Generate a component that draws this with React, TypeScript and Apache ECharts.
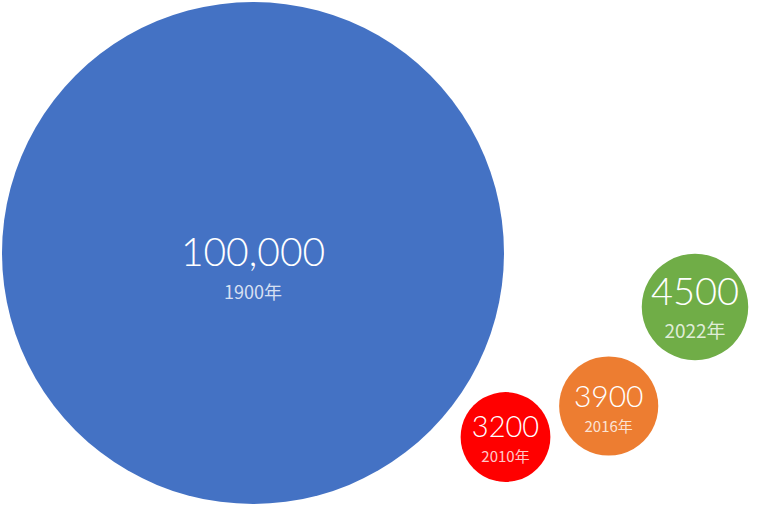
import React, { useEffect, useRef } from "react";
import * as echarts from "echarts";

const years = ["1900年", "2010年", "2016年", "2022年"];
const values = [100000, 3200, 3900, 4500];
const xPos = [253, 505.5, 608.7, 695];
const yPos = [253, 69, 100, 199];
const colors = ["#4472C4", "#FF0000", "#ED7D31", "#70AD47"];

const valueFont = [39, 29, 30, 38];
const yearFont = [18, 15, 15, 19];
const valueDy = [-2, -12, -11, -17];
const yearDy = [38, 18, 19, 22];

const VALUE_FONT = 'Lato, "Noto Sans", sans-serif';
const YEAR_FONT = '"Noto Sans CJK JP", "Noto Sans", sans-serif';

function fmt(v: number) {
  return v >= 10000 ? v.toLocaleString("en-US") : String(v);
}

export default function App() {
  const ref = useRef<HTMLDivElement>(null);
  useEffect(() => {
    if (!ref.current) return;
    const chart = echarts.init(ref.current, null, { renderer: "svg" });
    const k = 502 / Math.sqrt(100000);
    const bubbles = values.map((v, i) => ({
      value: [xPos[i], yPos[i], v],
      name: years[i],
      symbolSize: k * Math.sqrt(v),
      itemStyle: { color: colors[i] },
      label: {
        show: true,
        position: "inside",
        offset: [0, valueDy[i]],
        formatter: fmt(v),
        fontSize: valueFont[i],
        color: "#fff",
        fontFamily: VALUE_FONT,
        fontWeight: 300,
      },
    }));
    const yearLabels = values.map((v, i) => ({
      value: [xPos[i], yPos[i], v],
      name: years[i],
      label: {
        show: true,
        position: "inside",
        offset: [0, yearDy[i]],
        formatter: years[i],
        fontSize: yearFont[i],
        color: "#fff",
        fontFamily: YEAR_FONT,
        fontWeight: 400,
      },
    }));
    chart.setOption({
      animation: false,
      grid: { left: 0, right: 0, top: 0, bottom: 0 },
      xAxis: { type: "value", min: 0, max: 767, show: false },
      yAxis: { type: "value", min: 0, max: 506, show: false },
      series: [
        {
          type: "scatter",
          data: bubbles,
          itemStyle: { opacity: 1 },
          emphasis: { disabled: true },
        },
        {
          type: "scatter",
          data: yearLabels,
          symbolSize: 1,
          itemStyle: { color: "rgba(0,0,0,0)" },
          emphasis: { disabled: true },
          z: 3,
        },
      ],
    });
    return () => chart.dispose();
  }, []);
  return (
    <div
      ref={ref}
      style={{ position: "fixed", left: 0, top: 0, width: 767, height: 506, background: "#fff" }}
    />
  );
}
